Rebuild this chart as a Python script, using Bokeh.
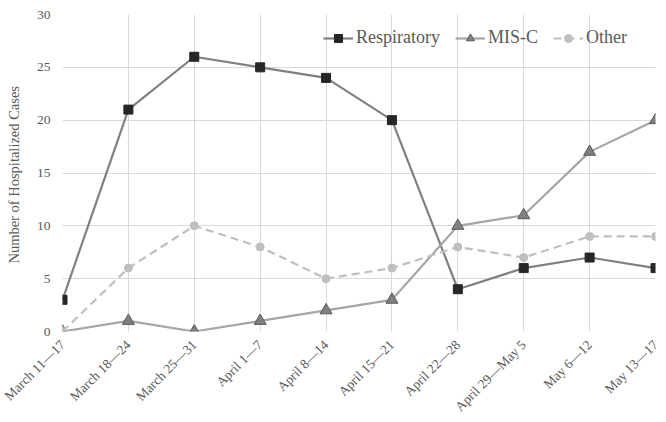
from bokeh.plotting import figure
from bokeh.models import Range1d, FixedTicker, Legend, LegendItem
from bokeh.embed import file_html
from bokeh.resources import INLINE
import math

weeks = ["March 11\u201417", "March 18\u201424", "March 25\u201431", "April 1\u20147",
         "April 8\u201414", "April 15\u201421", "April 22\u201428", "April 29\u2014May 5",
         "May 6\u201412", "May 13\u201417"]
respiratory = [3, 21, 26, 25, 24, 20, 4, 6, 7, 6]
misc = [0, 1, 0, 1, 2, 3, 10, 11, 17, 20]
other = [0, 6, 10, 8, 5, 6, 8, 7, 9, 9]

FONT = "Liberation Serif, Times New Roman, serif"
x = list(range(len(weeks)))

p = figure(width=666, height=422, output_backend="svg", toolbar_location=None,
           x_range=Range1d(0, len(weeks) - 1), y_range=Range1d(0, 30))
p.min_border_left = 62
p.min_border_right = 11
p.min_border_top = 14
p.min_border_bottom = 90
p.outline_line_color = None

p.xaxis.ticker = FixedTicker(ticks=x)
p.xaxis.major_label_overrides = {i: w for i, w in enumerate(weeks)}
p.xaxis.major_label_orientation = math.pi / 4
p.xaxis.major_label_standoff = 5
p.yaxis.ticker = FixedTicker(ticks=[0, 5, 10, 15, 20, 25, 30])
p.yaxis.major_label_standoff = 6
for ax in (p.xaxis, p.yaxis):
    ax.axis_line_color = None
    ax.major_tick_line_color = None
    ax.minor_tick_line_color = None
    ax.major_label_text_font = FONT
    ax.major_label_text_font_size = "13.5px"
    ax.major_label_text_color = "#595959"
p.yaxis.axis_label = "Number of Hospitalized  Cases"
p.yaxis.axis_label_text_font = FONT
p.yaxis.axis_label_text_font_style = "normal"
p.yaxis.axis_label_text_font_size = "14.5px"
p.yaxis.axis_label_text_color = "#595959"
p.yaxis.axis_label_standoff = 12
p.grid.grid_line_color = "#d9d9d9"
p.grid.grid_line_width = 1

r1 = p.line(x, respiratory, line_color="#808080", line_width=2.2)
m1 = p.scatter(x, respiratory, marker="square", size=9, fill_color="#262626", line_color="#262626")
r2 = p.line(x, misc, line_color="#a6a6a6", line_width=2.2)
m2 = p.scatter(x, misc, marker="triangle", size=12, fill_color="#808080", line_color="#595959")
r3 = p.line(x, other, line_color="#bfbfbf", line_width=2.2, line_dash="8 5")
m3 = p.scatter(x, other, marker="circle", size=8, fill_color="#bfbfbf", line_color="#bfbfbf")

legend = Legend(items=[LegendItem(label="Respiratory", renderers=[r1, m1]),
                       LegendItem(label="MIS-C", renderers=[r2, m2]),
                       LegendItem(label="Other", renderers=[r3, m3])],
                orientation="horizontal", location=(261, 283))
legend.background_fill_alpha = 0
legend.border_line_color = None
legend.padding = 0
legend.margin = 0
legend.label_text_font = FONT
legend.label_text_font_size = "18px"
legend.label_text_color = "#595959"
legend.glyph_width = 30
legend.spacing = 15
legend.label_standoff = 3
p.add_layout(legend, "center")

open("out.html", "w").write(file_html(p, INLINE))
